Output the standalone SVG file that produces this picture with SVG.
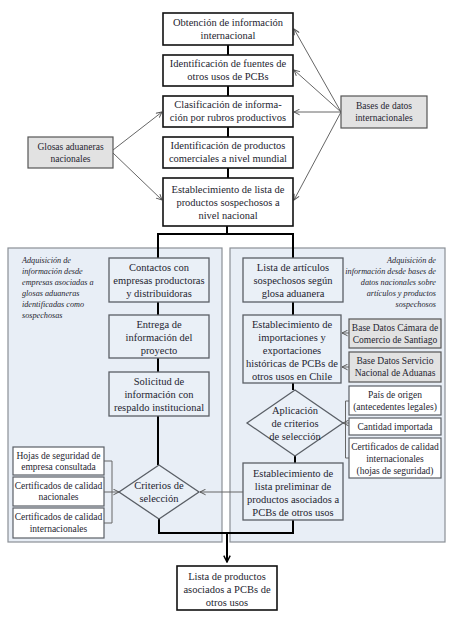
<svg xmlns="http://www.w3.org/2000/svg" width="450" height="622" viewBox="0 0 450 622" font-family="'Liberation Serif', 'Times New Roman', serif">
<defs>
<style>
text{fill:#1e1e30;}
.t{font-size:10.5px;text-anchor:middle;}
.s{font-size:9.5px;text-anchor:middle;}
.it{font-size:8.2px;font-style:italic;}
.box{fill:#fff;stroke:#111;stroke-width:1.6;}
.gbox{fill:#e2e2e2;stroke:#555;stroke-width:1.2;}
.panel{fill:#e8eef6;stroke:#8a8f96;stroke-width:1.2;}
.pbox{fill:#eaf0f7;stroke:#5a5f66;stroke-width:1.3;}
.wbox{fill:#fff;stroke:#5a5f66;stroke-width:1.2;}
.main{fill:none;stroke:#000;stroke-width:2;}
.thin{fill:none;stroke:#666;stroke-width:1;}
</style>
<marker id="ga" viewBox="0 0 10 10" refX="9" refY="5" markerWidth="7" markerHeight="7" orient="auto">
<path d="M1,1 L9,5 L1,9" fill="none" stroke="#555" stroke-width="1.4"/>
</marker>
<marker id="ba" viewBox="0 0 10 10" refX="9" refY="5" markerWidth="4" markerHeight="4" orient="auto">
<path d="M1,1 L9,5 L1,9" fill="none" stroke="#000" stroke-width="1.8"/>
</marker>
</defs>

<g id="panels">
<rect class="panel" x="8" y="248" width="214" height="294"/>
<rect class="panel" x="230" y="248" width="215" height="294"/>
</g>

<g id="connectors">
<path class="main" d="M228,45 V55 M228,86 V96 M228,127 V137 M228,168 V178"/>
<path class="main" d="M227,226 V234 M158,258 V234 H293 V258"/>
<path class="main" d="M158,302 V315 M158,358 V372 M158,416 V465"/>
<path class="main" d="M293,302 V315 M293,383 V390 M295,455 V463"/>
<path class="main" d="M159,519 V533 H293 V520"/>
<path class="main" d="M227,533 V562" marker-end="url(#ba)"/>
<path class="thin" d="M113,150 L162,112" marker-end="url(#ga)"/>
<path class="thin" d="M113,153 L162,200" marker-end="url(#ga)"/>
<path class="thin" d="M341,112 L294,29" marker-end="url(#ga)"/>
<path class="thin" d="M341,112 L294,70" marker-end="url(#ga)"/>
<path class="thin" d="M341,112 L294,112" marker-end="url(#ga)"/>
<path class="thin" d="M341,112 L294,200" marker-end="url(#ga)"/>
<path class="thin" d="M243,492 L200,492" marker-end="url(#ga)"/>
<path class="thin" d="M104,461 H112 V523 H104 M104,492 H112"/>
<path class="thin" d="M112,492 L119,492" marker-end="url(#ga)"/>
<path class="thin" d="M349,401 H345.5 V458 H349"/>
<path class="thin" d="M349,423 L343,423" marker-end="url(#ga)"/>
<path class="thin" d="M349,333 L342,333" marker-end="url(#ga)"/>
<path class="thin" d="M349,367 L342,367" marker-end="url(#ga)"/>
</g>

<g id="n1"><rect class="box" x="163" y="13" width="130" height="32"/>
<text class="t" x="228" y="26">Obtención de información</text><text class="t" x="228" y="39">internacional</text></g>
<g id="n2"><rect class="box" x="163" y="55" width="130" height="31"/>
<text class="t" x="228" y="67">Identificación de fuentes de</text><text class="t" x="228" y="80">otros usos de PCBs</text></g>
<g id="n3"><rect class="box" x="163" y="96" width="130" height="31"/>
<text class="t" x="228" y="108">Clasificación de informa-</text><text class="t" x="228" y="121">ción por rubros productivos</text></g>
<g id="n4"><rect class="box" x="163" y="137" width="130" height="31"/>
<text class="t" x="228" y="149">Identificación de productos</text><text class="t" x="228" y="162">comerciales a nivel mundial</text></g>
<g id="n5"><rect class="box" x="163" y="178" width="130" height="48"/>
<text class="t" x="228" y="193">Establecimiento de lista de</text><text class="t" x="228" y="206">productos sospechosos a</text><text class="t" x="228" y="219">nivel nacional</text></g>

<g id="bases"><rect class="gbox" x="341" y="96" width="86" height="32"/>
<text class="s" x="384" y="109">Bases de datos</text><text class="s" x="384" y="121">internacionales</text></g>
<g id="glosas"><rect class="gbox" x="28" y="137" width="85" height="31"/>
<text class="s" x="70.5" y="150">Glosas aduaneras</text><text class="s" x="70.5" y="162">nacionales</text></g>

<g id="ltext"><text class="it" x="22" y="263">Adquisición de</text><text class="it" x="22" y="274">información desde</text><text class="it" x="22" y="285">empresas asociadas a</text><text class="it" x="22" y="296">glosas aduaneras</text><text class="it" x="22" y="307">identificadas como</text><text class="it" x="22" y="318">sospechosas</text></g>
<g id="rtext"><text class="it" x="436" y="263" text-anchor="end">Adquisición de</text><text class="it" x="436" y="274" text-anchor="end">información desde bases de</text><text class="it" x="436" y="285" text-anchor="end">datos nacionales sobre</text><text class="it" x="436" y="296" text-anchor="end">artículos y productos</text><text class="it" x="436" y="307" text-anchor="end">sospechosos</text></g>

<g id="contactos"><rect class="pbox" x="109" y="258" width="100" height="44"/>
<text class="t" x="159" y="271">Contactos con</text><text class="t" x="159" y="284">empresas productoras</text><text class="t" x="159" y="297">y distribuidoras</text></g>
<g id="entrega"><rect class="pbox" x="109" y="315" width="100" height="43"/>
<text class="t" x="159" y="328">Entrega de</text><text class="t" x="159" y="341">información del</text><text class="t" x="159" y="354">proyecto</text></g>
<g id="solicitud"><rect class="pbox" x="109" y="372" width="100" height="44"/>
<text class="t" x="159" y="385">Solicitud de</text><text class="t" x="159" y="398">información con</text><text class="t" x="159" y="411">respaldo institucional</text></g>
<g id="criterios"><polygon class="pbox" points="159,465 199,492 159,519 119,492"/>
<text class="t" x="159" y="489">Criterios de</text><text class="t" x="159" y="502">selección</text></g>
<g id="hojas"><rect class="wbox" x="13" y="447" width="91" height="28"/>
<text class="s" x="58.5" y="459">Hojas de seguridad de</text><text class="s" x="58.5" y="470">empresa consultada</text></g>
<g id="certnac"><rect class="wbox" x="13" y="477" width="91" height="29"/>
<text class="s" x="58.5" y="489">Certificados de calidad</text><text class="s" x="58.5" y="500">nacionales</text></g>
<g id="certint"><rect class="wbox" x="13" y="508" width="91" height="30"/>
<text class="s" x="58.5" y="520">Certificados de calidad</text><text class="s" x="58.5" y="532">internacionales</text></g>

<g id="lista"><rect class="pbox" x="243" y="258" width="100" height="44"/>
<text class="t" x="293" y="271">Lista de artículos</text><text class="t" x="293" y="284">sospechosos según</text><text class="t" x="293" y="297">glosa aduanera</text></g>
<g id="import"><rect class="pbox" x="243" y="315" width="98" height="68"/>
<text class="t" x="292" y="328">Establecimiento de</text><text class="t" x="292" y="341">importaciones y</text><text class="t" x="292" y="354">exportaciones</text><text class="t" x="292" y="367">históricas de PCBs de</text><text class="t" x="292" y="380">otros usos en Chile</text></g>
<g id="camara"><rect class="gbox" x="349" y="319" width="92" height="29"/>
<text class="s" x="395" y="331">Base Datos Cámara de</text><text class="s" x="395" y="343">Comercio de Santiago</text></g>
<g id="servicio"><rect class="gbox" x="349" y="352" width="92" height="30"/>
<text class="s" x="395" y="364">Base Datos Servicio</text><text class="s" x="395" y="376">Nacional de Aduanas</text></g>
<g id="aplicacion"><polygon class="pbox" points="295,390 343,423 295,456 247,423"/>
<text class="t" x="295" y="414">Aplicación</text><text class="t" x="295" y="427">de criterios</text><text class="t" x="295" y="440">de selección</text></g>
<g id="pais"><rect class="wbox" x="349" y="386" width="92" height="29"/>
<text class="s" x="395" y="398">País de origen</text><text class="s" x="395" y="410">(antecedentes legales)</text></g>
<g id="cantidad"><rect class="wbox" x="349" y="418" width="92" height="17"/>
<text class="s" x="395" y="430">Cantidad importada</text></g>
<g id="certint2"><rect class="wbox" x="349" y="438" width="92" height="40"/>
<text class="s" x="395" y="450">Certificados de calidad</text><text class="s" x="395" y="462">internacionales</text><text class="s" x="395" y="474">(hojas de seguridad)</text></g>
<g id="preliminar"><rect class="pbox" x="243" y="463" width="100" height="57"/>
<text class="t" x="293" y="477">Establecimiento de</text><text class="t" x="293" y="490">lista preliminar de</text><text class="t" x="293" y="503">productos asociados a</text><text class="t" x="293" y="516">PCBs de otros usos</text></g>

<g id="final"><rect class="box" x="177" y="566" width="100" height="44"/>
<text class="t" x="227" y="580">Lista de productos</text><text class="t" x="227" y="593">asociados a PCBs de</text><text class="t" x="227" y="606">otros usos</text></g>
</svg>
